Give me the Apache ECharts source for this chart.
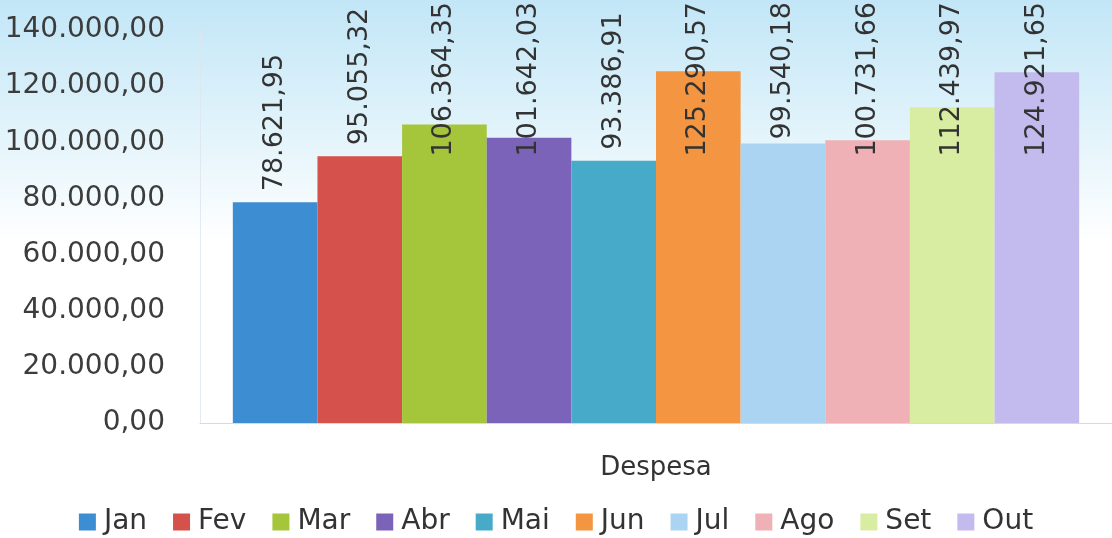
<!DOCTYPE html>
<html>
<head>
<meta charset="utf-8">
<script src="https://cdn.jsdelivr.net/npm/echarts@6/dist/echarts.min.js"></script>
<style>
  html, body { margin: 0; padding: 0; background: #fff; }
  #chart { width: 1112px; height: 538px; }
</style>
</head>
<body>
<div id="chart"></div>
<script>
// dados
const categories = ['Despesa']
const months = ['Jan', 'Fev', 'Mar', 'Abr', 'Mai', 'Jun', 'Jul', 'Ago', 'Set', 'Out']
const values = [78621.95, 95055.32, 106364.35, 101642.03, 93386.91, 125290.57, 99540.18, 100731.66, 112439.97, 124921.65]
const colors = ['#3d8dd3', '#d5514b', '#a5c53b', '#7a63b8', '#46aac8', '#f39541', '#abd4f3', '#efb1b6', '#d9eda2', '#c3baed']

const fontFamily = '"DejaVu Sans", sans-serif'
const labelSize = 27

// formato brasileiro: 140.000,00
const fmt = (v) => {
  const parts = Number(v).toFixed(2).split('.')
  const intPart = parts[0].replace(/\B(?=(\d{3})+(?!\d))/g, '.')
  return intPart + ',' + parts[1]
}

const chart = echarts.init(document.getElementById('chart'))

const makeSeries = (distances) => months.map((name, i) => ({
  type: 'bar',
  name: name,
  data: [values[i]],
  barGap: '0%',
  barCategoryGap: '7.2%',
  itemStyle: { color: colors[i] },
  label: {
    show: true,
    position: 'top',
    distance: distances ? distances[i] : 11,
    rotate: 90,
    align: 'left',
    verticalAlign: 'middle',
    color: '#333',
    fontFamily: fontFamily,
    fontSize: labelSize,
    formatter: (p) => fmt(p.value)
  }
}))

chart.setOption({
  backgroundColor: {
    type: 'linear', x: 0, y: 0, x2: 0, y2: 1,
    colorStops: [
      { offset: 0, color: '#c2e6f7' },
      { offset: 0.2, color: '#dcf1fa' },
      { offset: 0.45, color: '#ffffff' },
      { offset: 1, color: '#ffffff' }
    ]
  },
  animation: false,
  grid: {
    left: 200,
    top: 30,
    bottom: 115,
    width: 919
  },
  legend: {
    bottom: -3,
    left: 'center',
    icon: 'rect',
    itemWidth: 17,
    itemHeight: 17,
    itemGap: 26,
    data: months,
    textStyle: {
      color: '#333',
      fontFamily: fontFamily,
      fontSize: 28,
      padding: [0, 0, 0, 3]
    }
  },
  xAxis: {
    type: 'category',
    data: categories,
    axisTick: { show: false },
    axisLine: { lineStyle: { color: '#d9d9d9' } },
    axisLabel: {
      color: '#333',
      fontFamily: fontFamily,
      fontSize: 26,
      margin: 32
    }
  },
  yAxis: {
    type: 'value',
    min: 0,
    max: 140000,
    interval: 20000,
    axisLine: { show: true, lineStyle: { color: '#dde6ee', type: 'dotted' } },
    axisTick: { show: false },
    splitLine: { show: false },
    axisLabel: {
      color: '#3c3c3c',
      fontFamily: fontFamily,
      fontSize: 28,
      margin: 35,
      formatter: (v) => fmt(v)
    }
  },
  series: makeSeries(null)
})

// rótulos longos não passam do topo: desce o rótulo para dentro da barra
const ctx = document.createElement('canvas').getContext('2d')
ctx.font = labelSize + 'px ' + fontFamily
const distances = values.map((v) => {
  const barTop = chart.convertToPixel({ yAxisIndex: 0 }, v)
  const w = ctx.measureText(fmt(v)).width
  let bottom = barTop - 11
  if (bottom - w < 2) bottom = 2 + w
  return barTop - bottom
})
chart.setOption({ series: makeSeries(distances) })
</script>
</body>
</html>
